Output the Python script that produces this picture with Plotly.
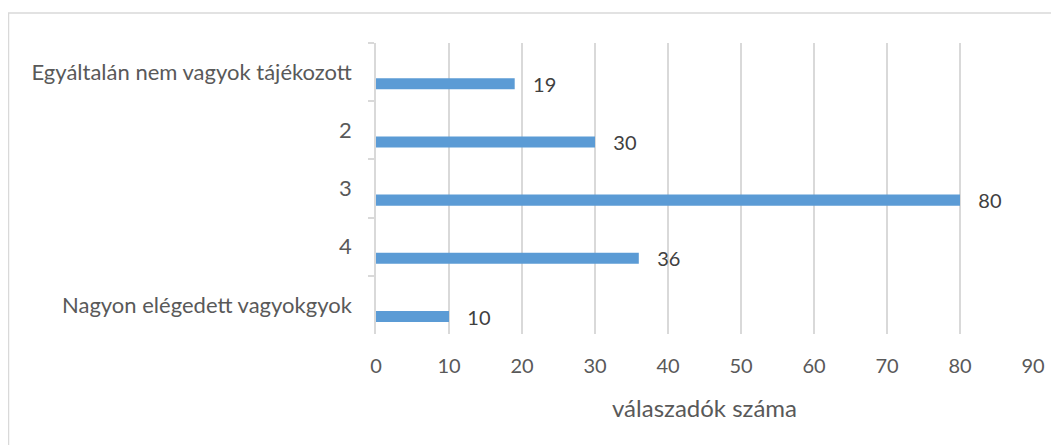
import plotly.graph_objects as go

categories = ["Egyáltalán nem vagyok tájékozott", "2", "3", "4", "Nagyon elégedett vagyokgyok"]
values = [19, 30, 80, 36, 10]
x_ticks = [0, 10, 20, 30, 40, 50, 60, 70, 80, 90]
x_title = "válaszadók száma"

# page body has an 8px margin, so the figure is shrunk by that amount
W, H = 1051, 437
L, R, T, B = 368, 26, 35, 111
pw, ph = W - L - R, H - T - B

FONT = "Lato"
GRID = "#d9d9d9"
NB = "\u00a0"

fig = go.Figure()
fig.add_trace(go.Bar(
    y=categories, x=values, orientation="h",
    marker=dict(color="#5b9bd5", line=dict(width=0)),
    width=0.19, offset=0.105,
    text=values, texttemplate=NB * 3 + "%{x}", textposition="outside",
    constraintext="none", cliponaxis=False,
    textfont=dict(family=FONT, size=20, color="#404040"),
    hoverinfo="skip",
))

fig.add_annotation(x=0.5, y=(ph - (399 - T)) / ph, xref="paper", yref="paper",
                   text=x_title, showarrow=False, xanchor="center", yanchor="middle",
                   font=dict(family=FONT, size=24, color="#595959"))

fig.add_shape(type="rect", xref="paper", yref="paper",
              x0=(0.5 - L) / pw, x1=(1050 - L) / pw,
              y0=(T + ph - 460) / ph, y1=(T + ph - 5) / ph,
              line=dict(color=GRID, width=1.5), fillcolor="rgba(0,0,0,0)", layer="below")

fig.update_layout(
    width=W, height=H,
    margin=dict(l=L, r=R, t=T, b=B),
    paper_bgcolor="white", plot_bgcolor="white",
    showlegend=False,
    font=dict(family=FONT, color="#595959"),
    xaxis=dict(range=[0, 90], tickvals=x_ticks, showgrid=True, gridcolor=GRID, gridwidth=1.5,
               zeroline=False, showline=False, ticks="", ticklabelstandoff=18,
               tickfont=dict(family=FONT, size=20, color="#595959"), fixedrange=True),
    yaxis=dict(range=[4.5, -0.5], type="category", showgrid=False, zeroline=False,
               showline=True, linecolor=GRID, linewidth=1.5,
               ticks="outside", tickson="boundaries", ticklen=6, tickcolor=GRID, tickwidth=1.5,
               ticklabelstandoff=18,
               tickfont=dict(family=FONT, size=22, color="#595959"), fixedrange=True),
)

fig.write_html("out.html")
